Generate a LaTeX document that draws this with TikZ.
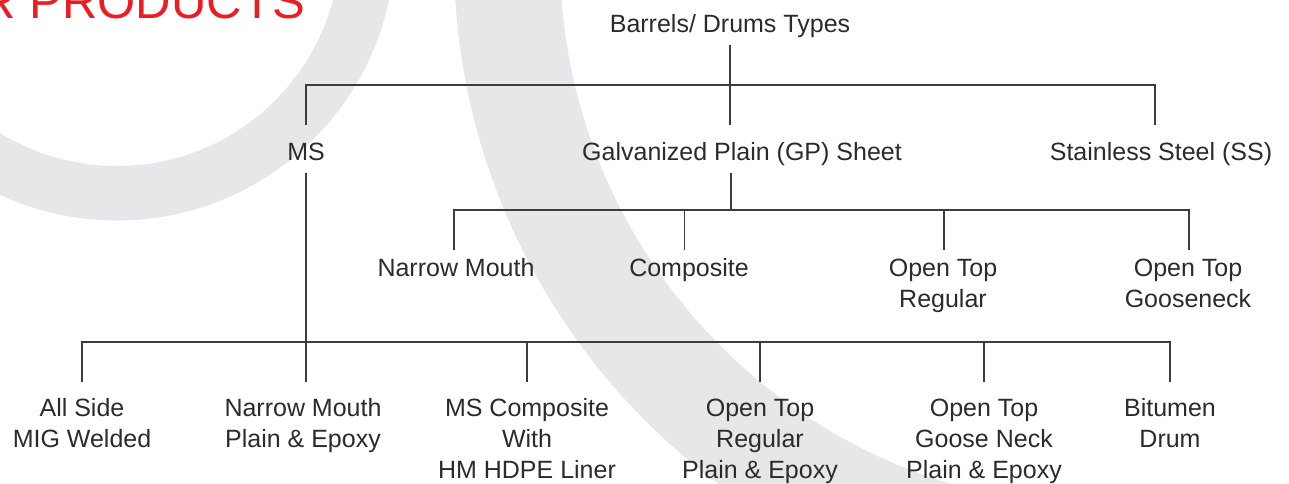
\documentclass[tikz,border=0pt]{standalone}
\usepackage{fontspec}
\setmainfont{Liberation Sans}
\definecolor{ringgray}{HTML}{E6E7E8}
\definecolor{lncol}{HTML}{3C3C3C}
\definecolor{txcol}{HTML}{2B2B2B}
\definecolor{brandred}{HTML}{ED1C24}
\newcommand{\rowstrut}[2]{\rule[-#2]{0pt}{\dimexpr#1+#2\relax}}
\begin{document}
\begin{tikzpicture}[x=1pt,y=-1pt,
  lbl/.style={inner sep=0pt, outer sep=0pt, align=center, text=txcol,
              font=\fontsize{25}{31}\selectfont},
  conn/.style={draw=lncol, line width=1.3pt}]
\useasboundingbox (0,0) rectangle (1289,483);
\begin{scope}
  \clip (0,0) rectangle (1289,483);
  \fill[ringgray, even odd rule] (117,-57.5) circle (278pt) (117,-57.5) circle (223.5pt);
  \begin{scope}
    \clip (0,0) rectangle (1200,483);
    \fill[ringgray, even odd rule] (1109,-42) circle (655pt) (1109,-42) circle (549pt);
  \end{scope}
  \node[anchor=base east, inner sep=0pt, text=brandred,
        font=\fontsize{49}{55}\selectfont] (title) at (305,18) {R PRODUCTS};
\end{scope}

% level 0
\node[lbl, anchor=base] (top) at (730,32) {\rowstrut{30pt}{13pt}Barrels/ Drums Types};
% level 1
\node[lbl, anchor=base] (ms) at (306,160) {\rowstrut{35pt}{12.5pt}MS};
\node[lbl, anchor=base] (gp) at (742,160) {\rowstrut{35pt}{12.5pt}Galvanized Plain (GP) Sheet};
\node[lbl, anchor=base] (ss) at (1161,160) {\rowstrut{35pt}{12.5pt}Stainless Steel (SS)};
% level 2 (GP)
\node[lbl, anchor=north] (nm1) at (456,250) {\rule{0pt}{26pt}Narrow Mouth};
\node[lbl, anchor=north] (comp) at (689,250) {\rule{0pt}{26pt}Composite};
\node[lbl, anchor=north] (otr) at (943,250) {\rule{0pt}{26pt}Open Top\\Regular};
\node[lbl, anchor=north] (otg) at (1188,250) {\rule{0pt}{26pt}Open Top\\Gooseneck};
% level 2 (MS)
\node[lbl, anchor=north] (asm) at (82,382) {\rule{0pt}{34pt}All Side\\MIG Welded};
\node[lbl, anchor=north] (nmpe) at (303,382) {\rule{0pt}{34pt}Narrow Mouth\\Plain \& Epoxy};
\node[lbl, anchor=north] (msc) at (527,382) {\rule{0pt}{34pt}MS Composite\\With\\HM HDPE Liner};
\node[lbl, anchor=north] (otrpe) at (760,382) {\rule{0pt}{34pt}Open Top\\Regular\\Plain \& Epoxy};
\node[lbl, anchor=north] (otgn) at (984,382) {\rule{0pt}{34pt}Open Top\\Goose Neck\\Plain \& Epoxy};
\node[lbl, anchor=north] (bit) at (1170,382) {\rule{0pt}{34pt}Bitumen\\Drum};

% junctions
\coordinate (j1) at (730,85);
\coordinate (j2) at (731,210);
\coordinate (j3) at (306,342);

% connectors
\draw[conn] (top.south) -- (top.south |- gp.north);
\draw[conn] (ms.north) |- (j1) -| ([xshift=-6pt]ss.north);

\draw[conn] (gp.south -| j2) -- (j2);
\draw[conn] ([xshift=-2pt]nm1.north) |- (j2) -| ([xshift=1pt]otg.north);
\draw[conn] ([xshift=-4.5pt]comp.north) -- ([xshift=-4.5pt]comp.north |- j2);
\draw[conn] ([xshift=1pt]otr.north) -- ([xshift=1pt]otr.north |- j2);

\draw[conn] (ms.south) -- (ms.south |- nmpe.north);
\draw[conn] (asm.north) |- (j3) -| (bit.north);
\draw[conn] (msc.north) -- (msc.north |- j3);
\draw[conn] (otrpe.north) -- (otrpe.north |- j3);
\draw[conn] (otgn.north) -- (otgn.north |- j3);
\end{tikzpicture}
\end{document}
